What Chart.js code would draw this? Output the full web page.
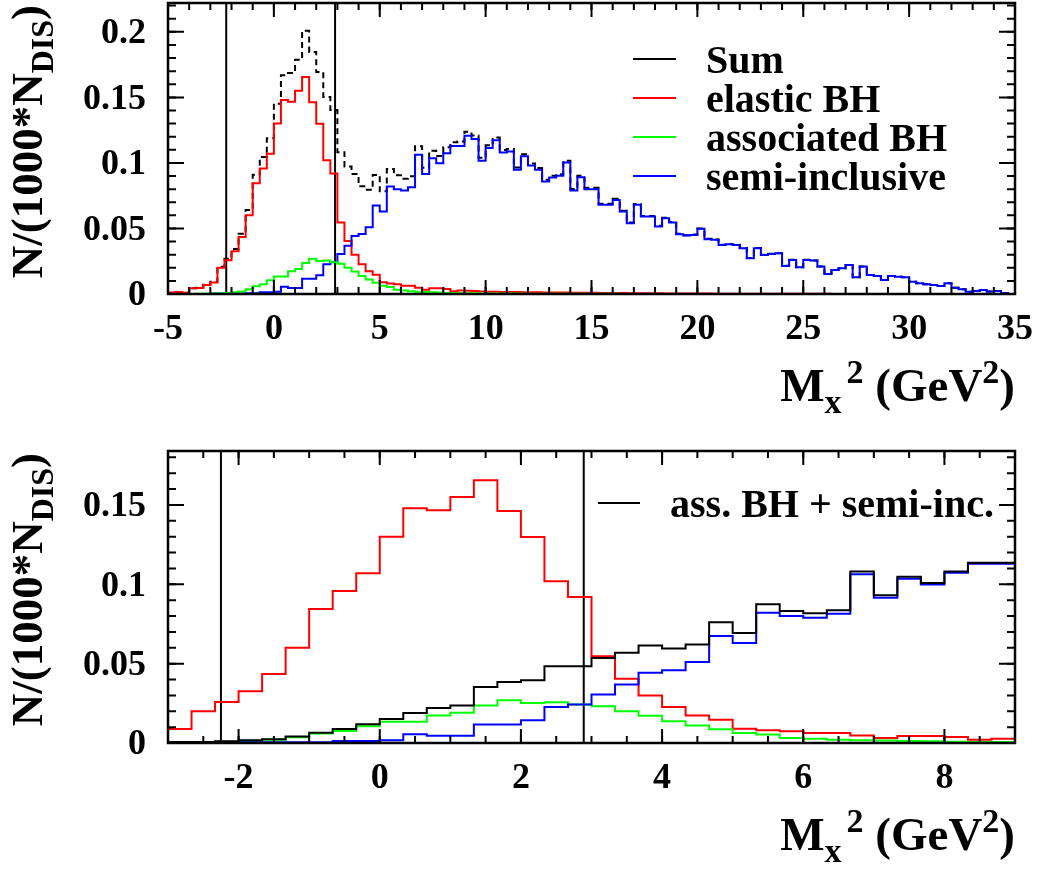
<!DOCTYPE html>
<html>
<head>
<meta charset="utf-8">
<title>Missing mass squared distributions</title>
<script src="https://cdn.jsdelivr.net/npm/chart.js@4.4.0/dist/chart.umd.min.js"></script>
<style>
  body { margin: 0; background: #fff; }
  #wrap { position: relative; width: 1039px; height: 869px; }
  canvas { position: absolute; left: 0; }
  #topChart { top: 0; }
  #bottomChart { top: 430px; }
</style>
</head>
<body>
<div id="wrap">
  <canvas id="topChart" width="1039" height="430"></canvas>
  <canvas id="bottomChart" width="1039" height="439"></canvas>
</div>
<script>
// M_x^2 binning: 120 bins of 1/3 GeV^2 from -5 to 35
const binStart = -5;
const binWidth = 1 / 3;

const elasticBH = [
  0.0010, 0.0015, 0.0010, 0.0043, 0.0045, 0.0069, 0.0088, 0.0200, 0.0258, 0.0326,
  0.0435, 0.0600, 0.0844, 0.0958, 0.1070, 0.1300, 0.1480, 0.1466, 0.1550, 0.1655,
  0.1462, 0.1298, 0.1020, 0.0920, 0.0546, 0.0405, 0.0300, 0.0227, 0.0174, 0.0147,
  0.0090, 0.0080, 0.0074, 0.0063, 0.0063, 0.0048, 0.0032, 0.0044, 0.0044, 0.0038,
  0.0021, 0.0027, 0.0025, 0.0022, 0.0020, 0.0018, 0.0017, 0.0016, 0.0016, 0.0015,
  0.0014, 0.0014, 0.0013, 0.0012, 0.0012, 0.0011, 0.0011, 0.0010, 0.0010, 0.0009,
  0.0009, 0.0008, 0.0008, 0.0007, 0.0007, 0.0006, 0.0006, 0.0005, 0.0005, 0.0005,
  0.0004, 0.0004, 0.0003, 0.0003, 0.0003, 0.0003, 0.0003, 0.0002, 0.0002, 0.0002,
  0.0002, 0.0002, 0.0002, 0.0002, 0.0001, 0.0001, 0.0001, 0.0001, 0.0001, 0.0001,
  0.0001, 0.0001, 0.0001, 0.0001, 0, 0, 0, 0, 0, 0,
  0, 0, 0, 0, 0, 0, 0, 0, 0, 0,
  0, 0, 0, 0, 0, 0, 0, 0, 0, 0
];

const associatedBH = [
  0, 0, 0, 0, 0.0002, 0.0002, 0.0003, 0.0004, 0.0008, 0.0013,
  0.0020, 0.0036, 0.0060, 0.0075, 0.0105, 0.0134, 0.0134, 0.0174, 0.0191, 0.0237,
  0.0269, 0.0252, 0.0256, 0.0242, 0.0231, 0.0200, 0.0172, 0.0137, 0.0111, 0.0086,
  0.0063, 0.0053, 0.0032, 0.0027, 0.0021, 0.0017, 0.0015, 0.0013, 0.0011, 0.0008,
  0.0006, 0.0006, 0.0005, 0.0005, 0.0004, 0.0004, 0.0004, 0.0003, 0.0003, 0.0003,
  0.0002, 0.0002, 0.0002, 0.0002, 0.0002, 0.0001, 0.0001, 0.0001, 0.0001, 0.0001,
  0.0001, 0.0001, 0.0001, 0.0001, 0, 0, 0, 0, 0, 0,
  0, 0, 0, 0, 0, 0, 0, 0, 0, 0,
  0, 0, 0, 0, 0, 0, 0, 0, 0, 0,
  0, 0, 0, 0, 0, 0, 0, 0, 0, 0,
  0, 0, 0, 0, 0, 0, 0, 0, 0, 0,
  0, 0, 0, 0, 0, 0, 0, 0, 0, 0
];

const semiInclusive = [
  0, 0, 0, 0, 0, 0, 0.0003, 0.0003, 0.0003, 0.0004,
  0.0004, 0.0005, 0.0005, 0.0013, 0.0013, 0.0017, 0.0055, 0.0046, 0.0046, 0.0116,
  0.0116, 0.0143, 0.0227, 0.0242, 0.0305, 0.0368, 0.0443, 0.0458, 0.0510, 0.0675,
  0.0630, 0.0821, 0.0800, 0.0790, 0.0815, 0.1063, 0.0916, 0.1035, 0.0998, 0.1073,
  0.1130, 0.1130, 0.1207, 0.1182, 0.1016, 0.1113, 0.1172, 0.1080, 0.1088, 0.0947,
  0.1050, 0.0980, 0.0947, 0.0858, 0.0889, 0.0902, 0.1004, 0.0790, 0.0891, 0.0800,
  0.0800, 0.0680, 0.0680, 0.0718, 0.0629, 0.0540, 0.0680, 0.0591, 0.0591, 0.0515,
  0.0578, 0.0545, 0.0456, 0.0446, 0.0451, 0.0497, 0.0418, 0.0413, 0.0374, 0.0380,
  0.0374, 0.0349, 0.0273, 0.0349, 0.0298, 0.0306, 0.0310, 0.0214, 0.0260, 0.0204,
  0.0260, 0.0255, 0.0209, 0.0153, 0.0183, 0.0196, 0.0222, 0.0127, 0.0209, 0.0145,
  0.0138, 0.0107, 0.0138, 0.0132, 0.0127, 0.0094, 0.0082, 0.0074, 0.0069, 0.0061,
  0.0082, 0.0048, 0.0036, 0.0018, 0.0023, 0.0031, 0.0020, 0.0023, 0.0005, 0.0000
];

// exclusive-region cuts on M_x^2
const cutLow = -2.25;
const cutHigh = 2.89;

const topXTicks = [-5, 0, 5, 10, 15, 20, 25, 30, 35];
const topYTicks = ['0', '0.05', '0.1', '0.15', '0.2'];
const bottomXTicks = [-2, 0, 2, 4, 6, 8];
const bottomYTicks = ['0', '0.05', '0.1', '0.15'];

const totalSum = elasticBH.map((v, i) => v + associatedBH[i] + semiInclusive[i]);
const assocPlusSemi = associatedBH.map((v, i) => v + semiInclusive[i]);

const SERIF = '"Liberation Serif", "Times New Roman", serif';

// histogram outline: one point per lower bin edge, plus the closing upper edge
function toSteps(values) {
  const pts = values.map((v, i) => ({ x: binStart + i * binWidth, y: v }));
  pts.push({ x: binStart + values.length * binWidth, y: values[values.length - 1] });
  return pts;
}

function histo(label, values, color, order, extra) {
  return Object.assign({
    label: label,
    data: toSteps(values),
    borderColor: color,
    borderWidth: 2,
    stepped: 'before', // horizontal across the bin first, then the vertical edge
    pointRadius: 0,
    fill: false,
    order: order,
    clip: { left: 0, top: 0, right: 0, bottom: 2 }
  }, extra || {});
}

function cutLine(x, yMax) {
  return {
    data: [{ x: x, y: 0 }, { x: x, y: yMax }],
    borderColor: '#000',
    borderWidth: 2,
    pointRadius: 0,
    order: 5
  };
}

// draws a run of text pieces with sub/superscripts, returns total width
function drawPieces(ctx, pieces, x, y, measureOnly) {
  let cx = x;
  pieces.forEach(p => {
    ctx.font = 'bold ' + p.size + 'px ' + SERIF;
    cx += p.gap || 0;
    if (!measureOnly) ctx.fillText(p.t, cx, y + (p.dy || 0));
    cx += ctx.measureText(p.t).width;
  });
  return cx - x;
}

const xTitle = [
  { t: 'M', size: 47 },
  { t: 'x', size: 34, dy: 12 },
  { t: '2', size: 34, dy: -18, gap: 5 },
  { t: ' (GeV', size: 47 },
  { t: '2', size: 34, dy: -18 },
  { t: ')', size: 47 }
];

const yTitle = [
  { t: 'N/(1000*N', size: 45 },
  { t: 'DIS', size: 32, dy: 11 },
  { t: ')', size: 45 }
];

// ROOT-like frame: inward ticks on all four sides, labels, titles and legend
function rootAxes(cfg) {
  return {
    id: 'rootAxes',
    afterDatasetsDraw(chart) {
      const { ctx, chartArea: a, scales: { x, y } } = chart;
      ctx.save();
      ctx.strokeStyle = '#000';
      ctx.fillStyle = '#000';
      ctx.lineWidth = 2;

      const xTicks = (step, len) => {
        for (let n = Math.ceil(x.min / step - 1e-6); n * step <= x.max + 1e-6; n++) {
          const px = x.getPixelForValue(n * step);
          ctx.beginPath();
          ctx.moveTo(px, a.bottom); ctx.lineTo(px, a.bottom - len);
          ctx.moveTo(px, a.top); ctx.lineTo(px, a.top + len);
          ctx.stroke();
        }
      };
      const yTicks = (step, len) => {
        for (let n = Math.ceil(y.min / step - 1e-6); n * step <= y.max + 1e-6; n++) {
          const py = y.getPixelForValue(n * step);
          ctx.beginPath();
          ctx.moveTo(a.left, py); ctx.lineTo(a.left + len, py);
          ctx.moveTo(a.right, py); ctx.lineTo(a.right - len, py);
          ctx.stroke();
        }
      };
      xTicks(cfg.xMinor, 7);
      xTicks(cfg.xMajor, 14);
      yTicks(cfg.yMinor, 8);
      yTicks(cfg.yMajor, 16);

      ctx.lineWidth = 2.5;
      ctx.strokeRect(a.left, a.top, a.right - a.left, a.bottom - a.top);

      // tick labels
      ctx.font = 'bold 36px ' + SERIF;
      ctx.textAlign = 'center';
      ctx.textBaseline = 'alphabetic';
      cfg.xLabels.forEach(v => {
        ctx.fillText(String(v), x.getPixelForValue(v), a.bottom + 45);
      });
      ctx.textAlign = 'right';
      ctx.textBaseline = 'middle';
      cfg.yLabels.forEach(s => {
        ctx.fillText(s, a.left - 22, y.getPixelForValue(parseFloat(s)) + 2);
      });

      // axis titles
      ctx.textAlign = 'left';
      ctx.textBaseline = 'alphabetic';
      const wx = drawPieces(ctx, xTitle, 0, 0, true);
      drawPieces(ctx, xTitle, a.right - wx, a.bottom + 107);

      const wy = drawPieces(ctx, yTitle, 0, 0, true);
      ctx.save();
      ctx.translate(42, a.top + 2);
      ctx.rotate(-Math.PI / 2);
      drawPieces(ctx, yTitle, -wy, 0);
      ctx.restore();

      // legend
      const lg = cfg.legend;
      ctx.font = 'bold 40px ' + SERIF;
      lg.items.forEach((it, i) => {
        const ly = lg.y + i * lg.step;
        ctx.strokeStyle = it.color;
        ctx.lineWidth = 2;
        ctx.beginPath();
        ctx.moveTo(lg.x0, ly); ctx.lineTo(lg.x1, ly);
        ctx.stroke();
        ctx.fillText(it.label, lg.textX, ly + 14);
      });
      ctx.restore();
    }
  };
}

function baseOptions(xMin, xMax, yMax, pad) {
  return {
    responsive: false,
    animation: false,
    layout: { padding: pad },
    scales: {
      x: { type: 'linear', min: xMin, max: xMax, display: false },
      y: { type: 'linear', min: 0, max: yMax, display: false }
    },
    plugins: { legend: { display: false }, tooltip: { enabled: false } }
  };
}

const topYMax = 0.222;
new Chart(document.getElementById('topChart'), {
  type: 'line',
  data: {
    datasets: [
      histo('associated BH', associatedBH, '#00ff00', 0),
      histo('semi-inclusive', semiInclusive, '#0000ff', 1),
      histo('elastic BH', elasticBH, '#ff0000', 2),
      histo('Sum', totalSum, '#000000', 3, { borderDash: [6, 4] }),
      cutLine(cutLow, topYMax),
      cutLine(cutHigh, topYMax)
    ]
  },
  options: baseOptions(-5, 35, topYMax, { left: 168, right: 24, top: 3, bottom: 136 }),
  plugins: [rootAxes({
    xMajor: 5, xMinor: 1, yMajor: 0.05, yMinor: 0.01,
    xLabels: topXTicks, yLabels: topYTicks,
    legend: {
      x0: 633, x1: 676, textX: 706, y: 59, step: 39,
      items: [
        { label: 'Sum', color: '#000000' },
        { label: 'elastic BH', color: '#ff0000' },
        { label: 'associated BH', color: '#00ff00' },
        { label: 'semi-inclusive', color: '#0000ff' }
      ]
    }
  })]
});

const bottomYMax = 0.184;
new Chart(document.getElementById('bottomChart'), {
  type: 'line',
  data: {
    datasets: [
      histo('ass. BH + semi-inc.', assocPlusSemi, '#000000', 0),
      histo('semi-inclusive', semiInclusive, '#0000ff', 1),
      histo('associated BH', associatedBH, '#00ff00', 2),
      histo('elastic BH', elasticBH, '#ff0000', 3),
      cutLine(cutLow, bottomYMax),
      cutLine(cutHigh, bottomYMax)
    ]
  },
  options: baseOptions(-3, 9, bottomYMax, { left: 168, right: 24, top: 21, bottom: 126 }),
  plugins: [rootAxes({
    xMajor: 2, xMinor: 0.5, yMajor: 0.05, yMinor: 0.01,
    xLabels: bottomXTicks, yLabels: bottomYTicks,
    legend: {
      x0: 598, x1: 640, textX: 670, y: 73, step: 39,
      items: [{ label: 'ass. BH + semi-inc.', color: '#000000' }]
    }
  })]
});
</script>
</body>
</html>
